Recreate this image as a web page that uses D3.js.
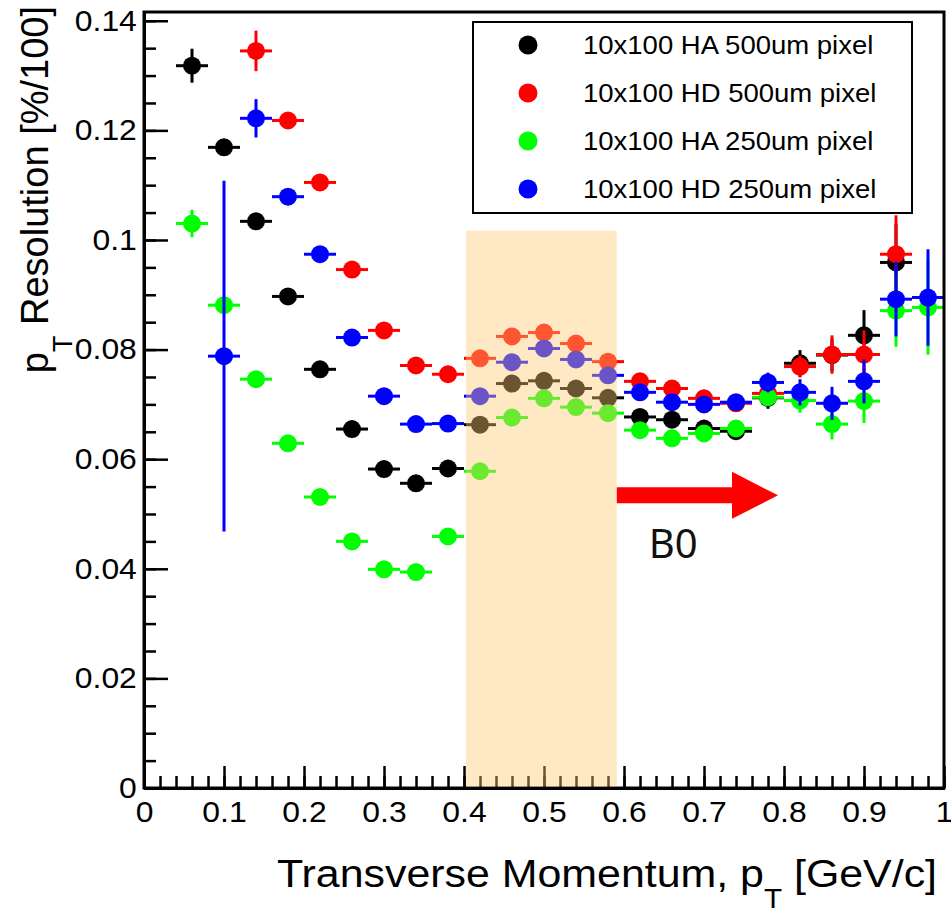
<!DOCTYPE html>
<html><head><meta charset="utf-8">
<script src="https://cdn.jsdelivr.net/npm/d3@7/dist/d3.min.js"></script>
<style>body{margin:0;background:#fff} svg{display:block}</style>
</head><body><svg id="c" width="951" height="914"></svg>
<script>
// ---------- data ----------
const pT = [0.06,0.10,0.14,0.18,0.22,0.26,0.30,0.34,0.38,0.42,0.46,0.50,0.54,0.58,0.62,0.66,0.70,0.74,0.78,0.82,0.86,0.90,0.94,0.98];
const seriesNames = ["10x100 HA 500um pixel","10x100 HD 500um pixel","10x100 HA 250um pixel","10x100 HD 250um pixel"];
const seriesColors = ["#000000","#ff0000","#00ff00","#0000ff"];
const ha500 = [0.1318,0.1169,0.1034,0.0897,0.0764,0.0655,0.0582,0.0556,0.0583,0.0663,0.0738,0.0743,0.0729,0.0712,0.0677,0.0672,0.0656,0.0651,0.0712,0.0775,0.0790,0.0826,0.0959,null];
const ha500Err = [0.0031,0.001,0.001,0.001,0.001,0.001,0.001,0.001,0.001,0.001,0.001,0.001,0.001,0.001,0.001,0.001,0.001,0.001,0.002,0.0024,0.003,0.0046,0.007,null];
const hd500 = [null,null,0.1345,0.1218,0.1105,0.0946,0.0835,0.0771,0.0755,0.0784,0.0824,0.0831,0.0811,0.0778,0.0742,0.0729,0.0711,0.0702,0.0720,0.0769,0.0791,0.0791,0.0974,null];
const hd500Err = [null,null,0.0037,0.001,0.001,0.001,0.001,0.001,0.001,0.001,0.001,0.001,0.001,0.001,0.001,0.001,0.001,0.001,0.0015,0.002,0.0035,0.0044,0.0071,null];
const ha250 = [0.1030,0.0881,0.0746,0.0629,0.0531,0.0450,0.0399,0.0394,0.0459,0.0578,0.0676,0.0711,0.0695,0.0684,0.0653,0.0638,0.0647,0.0656,0.0713,0.0707,0.0664,0.0706,0.0871,0.0877];
const ha250Err = [0.0025,0.001,0.001,0.001,0.001,0.001,0.001,0.001,0.001,0.001,0.001,0.001,0.001,0.001,0.001,0.001,0.001,0.001,0.0015,0.0022,0.0028,0.004,0.0066,0.0086];
const hd250 = [null,0.0788,0.1222,0.1079,0.0974,0.0822,0.0715,0.0664,0.0665,0.0715,0.0777,0.0802,0.0782,0.0753,0.0722,0.0704,0.0700,0.0704,0.0740,0.0722,0.0702,0.0742,0.0892,0.0895];
const hd250Err = [null,0.032,0.0035,0.001,0.001,0.001,0.001,0.001,0.001,0.001,0.001,0.001,0.001,0.001,0.001,0.001,0.001,0.001,0.0018,0.0024,0.003,0.004,0.0068,0.0088];
const binHalfWidth = 0.02;
const xMajorTicks = [0,0.1,0.2,0.3,0.4,0.5,0.6,0.7,0.8,0.9,1];
const xTickLabels = ["0","0.1","0.2","0.3","0.4","0.5","0.6","0.7","0.8","0.9","1"];
const yMajorTicks = [0,0.02,0.04,0.06,0.08,0.1,0.12,0.14];
const yTickLabels = ["0","0.02","0.04","0.06","0.08","0.1","0.12","0.14"];
const bandRange = [0.4025, 0.591];
const bandTop = 0.1017;
const arrowX = [0.591, 0.735, 0.7925];
const arrowY = 0.0534;
const arrowLabel = "B0";

// ---------- layout ----------
const svg = d3.select("#c");
const x = d3.scaleLinear().domain([0,1]).range([144,944]);
const y = d3.scaleLinear().domain([0,0.1416]).range([788,12]);
const SX = 1.1;
const FONT = "'Liberation Sans', Arial, Helvetica, sans-serif";

const series = [
  {v: ha500, e: ha500Err},
  {v: hd500, e: hd500Err},
  {v: ha250, e: ha250Err},
  {v: hd250, e: hd250Err}
];

// data
series.forEach((s, k) => {
  const col = seriesColors[k];
  const g = svg.append("g");
  const pts = pT.map((p,i)=>({p, v:s.v[i], e:s.e[i]})).filter(d=>d.v!=null);
  g.selectAll("line.h").data(pts).join("line")
    .attr("x1", d=>x(d.p-binHalfWidth)).attr("x2", d=>x(d.p+binHalfWidth))
    .attr("y1", d=>y(d.v)).attr("y2", d=>y(d.v))
    .attr("stroke", col).attr("stroke-width", 3);
  g.selectAll("line.v").data(pts).join("line")
    .attr("x1", d=>x(d.p)).attr("x2", d=>x(d.p))
    .attr("y1", d=>y(d.v-d.e)).attr("y2", d=>y(d.v+d.e))
    .attr("stroke", col).attr("stroke-width", 3);
  g.selectAll("circle").data(pts).join("circle")
    .attr("cx", d=>x(d.p)).attr("cy", d=>y(d.v)).attr("r", 9)
    .attr("fill", col);
});

// axes
function styleAxis(g){
  g.select(".domain").attr("stroke","#000").attr("stroke-width",3);
  g.selectAll(".tick line").attr("stroke","#000").attr("stroke-width",2.5);
}
const xMinor = d3.range(0,1.0001,0.02);
const yMinor = d3.range(0,0.14001,0.005);
svg.append("g").attr("transform",`translate(0,${y(0)})`)
  .call(d3.axisBottom(x).tickValues(xMinor).tickSize(-12).tickSizeOuter(0).tickFormat(""))
  .call(styleAxis);
svg.append("g").attr("transform",`translate(${x(0)},0)`)
  .call(d3.axisLeft(y).tickValues(yMinor).tickSize(-12).tickSizeOuter(0).tickFormat(""))
  .call(styleAxis);
const gx = svg.append("g").attr("transform",`translate(0,${y(0)})`)
  .call(d3.axisBottom(x).tickValues(xMajorTicks).tickSize(-22).tickSizeOuter(0).tickPadding(13)
        .tickFormat((d,i)=>xTickLabels[i]))
  .call(styleAxis);
gx.selectAll(".tick text").attr("font-family",FONT).attr("font-size",29).attr("fill","#000")
  .attr("transform",`scale(${SX},1)`);
const gy = svg.append("g").attr("transform",`translate(${x(0)},0)`)
  .call(d3.axisLeft(y).tickValues(yMajorTicks).tickSize(-24).tickSizeOuter(0).tickPadding(6.5)
        .tickFormat((d,i)=>yTickLabels[i]))
  .call(styleAxis);
gy.selectAll(".tick text").attr("font-family",FONT).attr("font-size",29).attr("fill","#000")
  .attr("transform",`scale(${SX},1)`);

// frame
svg.append("rect").attr("x",x(0)).attr("y",y.range()[1]).attr("width",x(1)-x(0)).attr("height",y(0)-y.range()[1])
  .attr("fill","none").attr("stroke","#000").attr("stroke-width",3);

// highlight band
svg.append("rect").attr("x",x(bandRange[0])).attr("width",x(bandRange[1])-x(bandRange[0]))
  .attr("y",y(bandTop)).attr("height",y(0)-1.5-y(bandTop))
  .attr("fill","rgb(255,202,114)").attr("fill-opacity",0.42);

// arrow
const ay = y(arrowY);
svg.append("polygon").attr("fill","#ff0000").attr("points",[
  [x(arrowX[0]),ay-8],[x(arrowX[1]),ay-8],[x(arrowX[1]),ay-23.5],[x(arrowX[2]),ay],
  [x(arrowX[1]),ay+23.5],[x(arrowX[1]),ay+8],[x(arrowX[0]),ay+8]].map(p=>p.join(",")).join(" "));
svg.append("text").attr("x",x(0.631)).attr("y",y(0.0419)).attr("font-family","'Noto Sans', 'Open Sans', sans-serif")
  .attr("font-size",40).attr("fill","#111").text(arrowLabel);

// legend
const lg = svg.append("g");
lg.append("rect").attr("x",473).attr("y",22).attr("width",439).attr("height",191)
  .attr("fill","#fff").attr("stroke","#000").attr("stroke-width",2);
seriesNames.forEach((n,k)=>{
  const ry = 45 + k*48;
  lg.append("circle").attr("cx",528).attr("cy",ry).attr("r",9.5).attr("fill",seriesColors[k]);
  lg.append("text").attr("transform",`translate(583,${ry+9}) scale(${SX},1)`)
    .attr("font-family",FONT).attr("font-size",25).attr("fill","#000").text(n);
});

// axis titles
const xt = svg.append("text").attr("font-family",FONT).attr("font-size",39).attr("fill","#000")
  .attr("text-anchor","end").attr("transform",`translate(937,887) scale(${SX},1)`);
xt.append("tspan").text("Transverse Momentum, p");
xt.append("tspan").attr("font-size",27).attr("dy",21).text("T");
xt.append("tspan").attr("dy",-21).text(" [GeV/c]");

const yt = svg.append("text").attr("font-family",FONT).attr("font-size",38).attr("fill","#000")
  .attr("text-anchor","end").attr("transform",`translate(48,6) rotate(-90)`);
yt.append("tspan").text("p");
yt.append("tspan").attr("font-size",27).attr("dy",24).text("T");
yt.append("tspan").attr("dy",-24).text(" Resolution [%/100]");
</script></body></html>
